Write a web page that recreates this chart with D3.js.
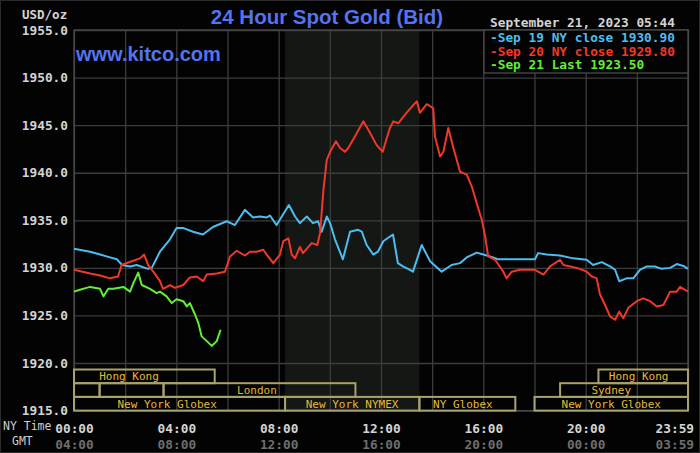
<!DOCTYPE html>
<html><head><meta charset="utf-8">
<script src="https://cdn.jsdelivr.net/npm/d3@7/dist/d3.min.js"></script>
<style>html,body{margin:0;padding:0;background:#000;}svg{display:block;}</style>
</head><body>
<svg id="c" width="700" height="453"></svg>
<script>
// ---------- data ----------
const sep19Hours = [0,0.63,1.02,1.41,1.68,1.88,2.19,2.45,2.89,3.04,3.36,3.75,4.01,4.26,4.65,5.04,5.43,5.97,6.29,6.68,7.0,7.27,7.53,7.66,7.92,8.17,8.40,8.64,8.83,9.10,9.34,9.54,9.68,9.88,10.01,10.20,10.51,10.79,11.10,11.25,11.44,11.70,11.88,12.09,12.35,12.47,12.66,12.86,13.13,13.25,13.59,13.92,14.37,14.76,15.09,15.35,15.74,16.0,16.26,16.57,18.02,18.14,18.48,19.0,19.51,20.04,20.29,20.63,20.95,21.15,21.31,21.60,21.86,22.12,22.39,22.71,22.97,23.30,23.56,23.82,24.0];
const sep19Prices = [1932.0,1931.7,1931.4,1931.1,1930.9,1930.3,1930.15,1930.3,1929.9,1930.0,1931.7,1933.0,1934.2,1934.2,1933.8,1933.5,1934.3,1934.9,1934.5,1936.1,1935.3,1935.4,1935.3,1935.5,1934.5,1935.6,1936.6,1935.4,1934.7,1935.4,1934.7,1934.9,1933.8,1935.4,1934.7,1933.0,1930.9,1933.8,1934.0,1933.8,1932.4,1931.4,1931.7,1932.8,1933.3,1933.5,1930.5,1930.15,1929.8,1929.6,1932.4,1930.7,1929.6,1930.3,1930.5,1931.1,1931.6,1931.4,1931.2,1930.9,1930.9,1931.55,1931.4,1931.3,1931.0,1930.85,1930.3,1930.6,1930.15,1929.8,1928.6,1928.9,1928.9,1929.8,1930.15,1930.15,1929.9,1930.0,1930.4,1930.2,1929.9];

const sep20Hours = [0,0.63,1.02,1.41,1.72,1.86,2.26,2.58,2.74,2.90,3.10,3.36,3.48,3.75,3.95,4.27,4.53,4.80,5.05,5.19,5.58,5.90,6.10,6.36,6.68,6.88,7.14,7.40,7.53,7.79,8.05,8.18,8.38,8.51,8.64,8.83,8.95,9.29,9.51,9.62,9.75,9.88,10.01,10.24,10.40,10.59,10.72,10.98,11.31,11.57,11.83,12.07,12.22,12.35,12.48,12.68,12.94,13.26,13.40,13.52,13.79,14.04,14.11,14.31,14.44,14.63,14.83,15.09,15.35,15.55,15.74,15.94,16.07,16.19,16.46,16.78,16.91,17.11,17.43,18.02,18.35,18.61,19.0,19.13,19.65,20.04,20.24,20.43,20.56,20.76,20.95,21.15,21.31,21.47,21.67,22.0,22.25,22.52,22.78,23.04,23.30,23.56,23.69,24.0];
const sep20Prices = [1929.8,1929.4,1929.2,1928.9,1929.1,1930.3,1930.7,1931.0,1931.4,1930.3,1929.6,1928.6,1927.8,1928.2,1927.9,1928.2,1929.0,1929.1,1928.6,1929.3,1929.4,1929.6,1931.2,1931.8,1931.3,1931.7,1931.7,1931.9,1931.4,1930.5,1931.4,1932.8,1933.1,1931.4,1931.0,1932.2,1931.55,1932.6,1932.4,1933.7,1938.2,1941.35,1942.2,1943.3,1942.6,1942.2,1942.6,1943.8,1945.4,1944.2,1942.9,1942.2,1943.6,1944.7,1945.4,1945.2,1946.1,1947.1,1947.5,1946.3,1947.2,1946.8,1943.8,1941.7,1942.2,1944.7,1942.6,1940.1,1939.8,1938.55,1936.8,1935.05,1933.3,1931.2,1930.85,1929.6,1928.9,1929.6,1929.8,1929.8,1929.3,1930.15,1930.85,1930.3,1930.0,1929.6,1929.1,1928.9,1927.2,1926.1,1924.9,1924.55,1925.4,1924.7,1925.8,1926.5,1926.8,1926.5,1925.95,1926.1,1927.5,1927.5,1928.0,1927.5];

const sep21Hours = [0,0.23,0.63,1.02,1.15,1.34,1.54,1.93,2.19,2.32,2.51,2.65,2.97,3.23,3.36,3.62,3.82,4.01,4.27,4.41,4.53,4.73,4.86,4.99,5.19,5.38,5.58,5.73];
const sep21Prices = [1927.5,1927.7,1928.0,1927.8,1927.0,1927.8,1927.8,1928.0,1927.5,1928.4,1929.5,1928.2,1927.8,1927.35,1927.5,1927.0,1926.3,1926.7,1926.5,1925.95,1926.3,1925.1,1924.2,1922.8,1922.3,1921.8,1922.3,1923.5];

const legendLabels = ["-Sep 19 NY close 1930.90","-Sep 20 NY close 1929.80","-Sep 21 Last 1923.50"];
const yTicks = [1915,1920,1925,1930,1935,1940,1945,1950,1955];
const xGridHours = [0,2,4,6,8,10,12,14,16,18,20,22,24];
const xTickHours = [0,4,8,12,16,20,23.983];
const nyTimeLabels = ["00:00","04:00","08:00","12:00","16:00","20:00","23:59"];
const gmtLabels = ["04:00","08:00","12:00","16:00","20:00","00:00","03:59"];
const nymexShade = [8.25,13.5];
// sessions: row, start hour, end hour, label, label centre hour
const sessionRows   = [0,0,1,1,1,1,2,2,2,2];
const sessionStarts = [0,20.5,0,1,3.5,19,0,8.25,13.5,18];
const sessionEnds   = [5.5,24,1,3.5,11,24,8.25,13.5,17.25,24];
const sessionNames  = ["Hong Kong","Hong Kong","","","London","Sydney","New York Globex","New York NYMEX","NY Globex","New York Globex"];
const sessionLabelAt= [2.15,22.07,0,0,7.15,21.0,3.64,10.87,15.2,21.0];

// ---------- drawing ----------
const svg = d3.select("#c");
const L=74,R=688,T=30,B=410.6;
const x = d3.scaleLinear().domain([0,24]).range([L,R]);
const y = d3.scaleLinear().domain([1915,1955]).range([B,T]);
const mono = "'DejaVu Sans Mono', monospace";
const sans = "'Liberation Sans', Arial, sans-serif";

svg.append("rect").attr("width",700).attr("height",453).attr("fill","#030303");
svg.append("rect").attr("x",0.5).attr("y",0.5).attr("width",699).attr("height",452).attr("fill","none").attr("stroke","#2a2a2a");

// shaded NYMEX
svg.append("rect").attr("x",x(nymexShade[0])).attr("y",T).attr("width",x(nymexShade[1])-x(nymexShade[0])).attr("height",B-T).attr("fill","#141714");

// grid
const gy = svg.append("g").attr("transform",`translate(${L},0)`)
  .call(d3.axisLeft(y).tickValues(yTicks).tickSize(-(R-L)).tickFormat(""));
const gx = svg.append("g").attr("transform",`translate(0,${T})`)
  .call(d3.axisTop(x).tickValues(xGridHours).tickSize(-(B-T)).tickFormat(""));
[gy,gx].forEach(g=>{g.select(".domain").remove();g.selectAll(".tick line").attr("stroke","#3d3d3d").attr("stroke-width",1.3);});

// frame
svg.append("rect").attr("x",L).attr("y",T).attr("width",R-L).attr("height",B-T).attr("fill","none").attr("stroke","#4a4a4a").attr("stroke-width",1.3);

// y labels
const yl = svg.append("g").attr("transform",`translate(${L},0)`)
  .call(d3.axisLeft(y).tickValues(yTicks).tickSize(0).tickPadding(6).tickFormat(d=>d.toFixed(1)));
yl.select(".domain").remove();
yl.selectAll("text").attr("fill","#d4d4d4").attr("font-family",mono).attr("font-weight","bold").attr("font-size","12.8px");

// sessions
const rowH = (B-369.5)/3;
const sess = svg.append("g");
sessionRows.forEach((r,i)=>{
  const y0 = 369.5 + r*rowH;
  sess.append("rect").attr("x",x(sessionStarts[i])).attr("y",y0)
    .attr("width",x(sessionEnds[i])-x(sessionStarts[i])).attr("height",rowH)
    .attr("fill","none").attr("stroke","#a8a26c").attr("stroke-width",2);
  if(sessionNames[i]) sess.append("text").attr("x",x(sessionLabelAt[i])).attr("y",y0+rowH/2+4)
    .attr("text-anchor","middle").attr("fill","#e6b93a").attr("font-family",mono).attr("font-size","11px")
    .text(sessionNames[i]);
});

// lines
const line = d3.line().x(d=>x(d[0])).y(d=>y(d[1]));
const series = [[sep19Hours,sep19Prices,"#4cbdf0"],[sep20Hours,sep20Prices,"#f0382a"],[sep21Hours,sep21Prices,"#62ee32"]];
series.forEach(s=>{
  svg.append("path").datum(d3.zip(s[0],s[1])).attr("d",line).attr("fill","none")
    .attr("stroke",s[2]).attr("stroke-width",2).attr("stroke-linejoin","round");
});

// legend
svg.append("rect").attr("x",484).attr("y",T).attr("width",R-484).attr("height",43).attr("fill","#030303").attr("stroke","#4a4a4a").attr("stroke-width",1.3);
legendLabels.forEach((t,i)=>{
  svg.append("text").attr("x",490).attr("y",42+i*13.5).attr("fill",series[i][2])
    .attr("font-family",mono).attr("font-weight","bold").attr("font-size","12.8px").text(t);
});
svg.append("text").attr("x",490).attr("y",26.5).attr("fill","#d4d4d4").attr("font-family",mono)
  .attr("font-weight","bold").attr("font-size","12.8px").text("September 21, 2023 05:44");

// titles
svg.append("text").attr("x",327).attr("y",24).attr("text-anchor","middle").attr("fill","#5473ee")
  .attr("font-family",sans).attr("font-weight","bold").attr("font-size","20.5px").text("24 Hour Spot Gold (Bid)");
svg.append("text").attr("x",76).attr("y",60.5).attr("fill","#5473ee")
  .attr("font-family",sans).attr("font-weight","bold").attr("font-size","20px").text("www.kitco.com");
svg.append("text").attr("x",22).attr("y",19).attr("fill","#d4d4d4").attr("font-family",mono)
  .attr("font-weight","bold").attr("font-size","12.5px").text("USD/oz");

// x labels
const xl = svg.append("g").attr("transform",`translate(0,${B})`)
  .call(d3.axisBottom(x).tickValues(xTickHours).tickSize(0).tickPadding(13).tickFormat((d,i)=>nyTimeLabels[i]));
xl.select(".domain").remove();
xl.selectAll("text").attr("fill","#d4d4d4").attr("font-family",mono).attr("font-weight","bold").attr("font-size","12.8px");
xl.selectAll("text").filter((d,i)=>i===nyTimeLabels.length-1).attr("text-anchor","end").attr("dx","6");
const xg = svg.append("g").attr("transform",`translate(0,${B})`)
  .call(d3.axisBottom(x).tickValues(xTickHours).tickSize(0).tickPadding(29).tickFormat((d,i)=>gmtLabels[i]));
xg.select(".domain").remove();
xg.selectAll("text").attr("fill","#6e6e6e").attr("font-family",mono).attr("font-weight","bold").attr("font-size","12.8px");
xg.selectAll("text").filter((d,i)=>i===gmtLabels.length-1).attr("text-anchor","end").attr("dx","6");

svg.append("text").attr("x",3).attr("y",430).attr("fill","#cfcfcf").attr("font-family",mono).attr("font-size","11.5px").text("NY Time");
svg.append("text").attr("x",12).attr("y",445).attr("fill","#cfcfcf").attr("font-family",mono).attr("font-size","11.5px").text("GMT");
</script>
</body></html>
